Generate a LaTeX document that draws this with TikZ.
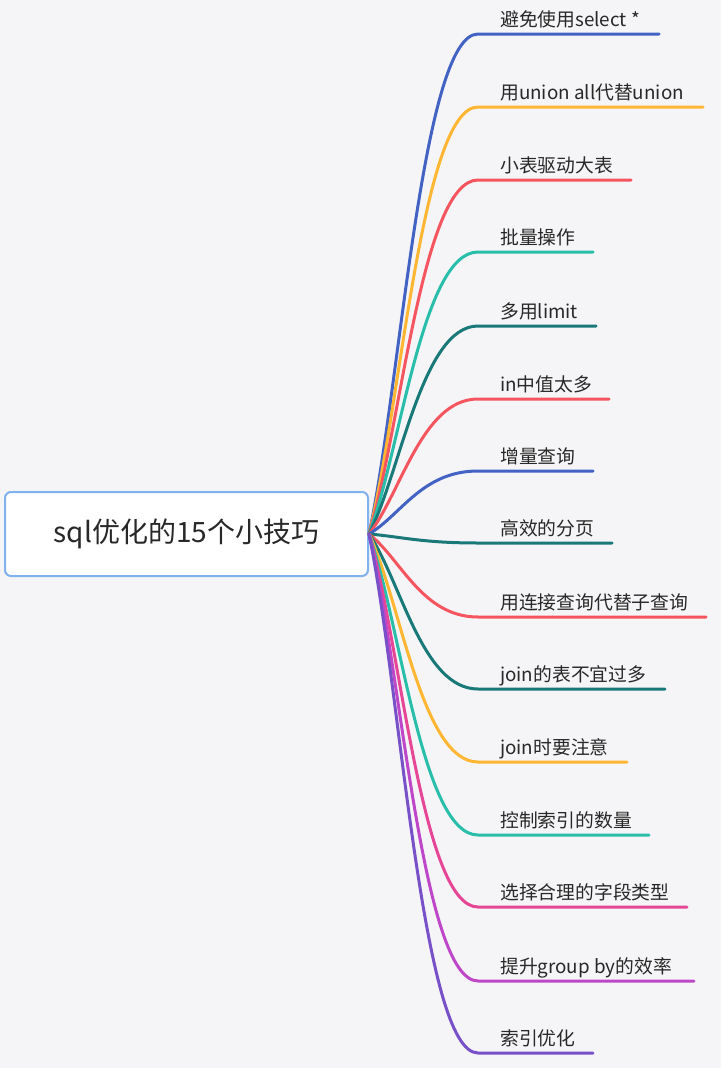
\documentclass[tikz,border=0pt]{standalone}
\usepackage{fontspec}
\newfontfamily\cjk{Noto Sans CJK SC}
\usetikzlibrary{calc}
\definecolor{bgGray}{RGB}{245,245,247}
\definecolor{rootBlue}{RGB}{128,178,238}
\definecolor{textGray}{RGB}{40,40,40}
\definecolor{cBlue}{RGB}{66,99,196}
\definecolor{cOrange}{RGB}{255,182,50}
\definecolor{cRed}{RGB}{245,85,95}
\definecolor{cTeal}{RGB}{40,190,170}
\definecolor{cDark}{RGB}{25,120,120}
\definecolor{cPink}{RGB}{230,70,150}
\definecolor{cMagenta}{RGB}{190,70,200}
\definecolor{cPurple}{RGB}{120,80,200}

\begin{document}
\begin{tikzpicture}[x=1pt, y=-1pt,
    branch/.style={line width=3pt, line cap=round},
    leaf/.style={font=\cjk\fontsize{18.8}{22}\selectfont, text=textGray,
                 anchor=base west, inner sep=0pt}]
    \fill[bgGray] (0,0) rectangle (721,1068);
    \useasboundingbox (0,0) rectangle (721,1068);
    \node[draw=rootBlue, line width=2pt, rounded corners=6pt, fill=white,
          minimum width=363pt, minimum height=84pt, inner sep=0pt,
          font=\cjk\fontsize{28}{32}\selectfont, text=textGray]
      (root) at (186.5,534) {sql优化的15个小技巧};
    \foreach \y/\xe/\col/\txt [count=\i] in {
        34/659/cBlue/避免使用select *,
        107/703/cOrange/用union all代替union,
        180/631/cRed/小表驱动大表,
        252/593/cTeal/批量操作,
        326/596/cDark/多用limit,
        399/609/cRed/in中值太多,
        471/593/cBlue/增量查询,
        543/612/cDark/高效的分页,
        617/706/cRed/用连接查询代替子查询,
        689/665/cDark/join的表不宜过多,
        762/627/cOrange/join时要注意,
        835/649/cTeal/控制索引的数量,
        907/687/cPink/选择合理的字段类型,
        981/694/cMagenta/提升group by的效率,
        1053/593/cPurple/索引优化}{
      \node[leaf] (b\i) at (500,\y-8) {\txt};
      \coordinate (s\i) at (478,\y);
      \coordinate (e\i) at (\xe,\y);
      \pgfmathsetmacro\dy{0.3*(\y-534)}
      \draw[branch, \col] (root.east) .. controls +(32,\dy) and +(-56,0) .. (s\i) -- (e\i);
    }
  \end{tikzpicture}
\end{document}
